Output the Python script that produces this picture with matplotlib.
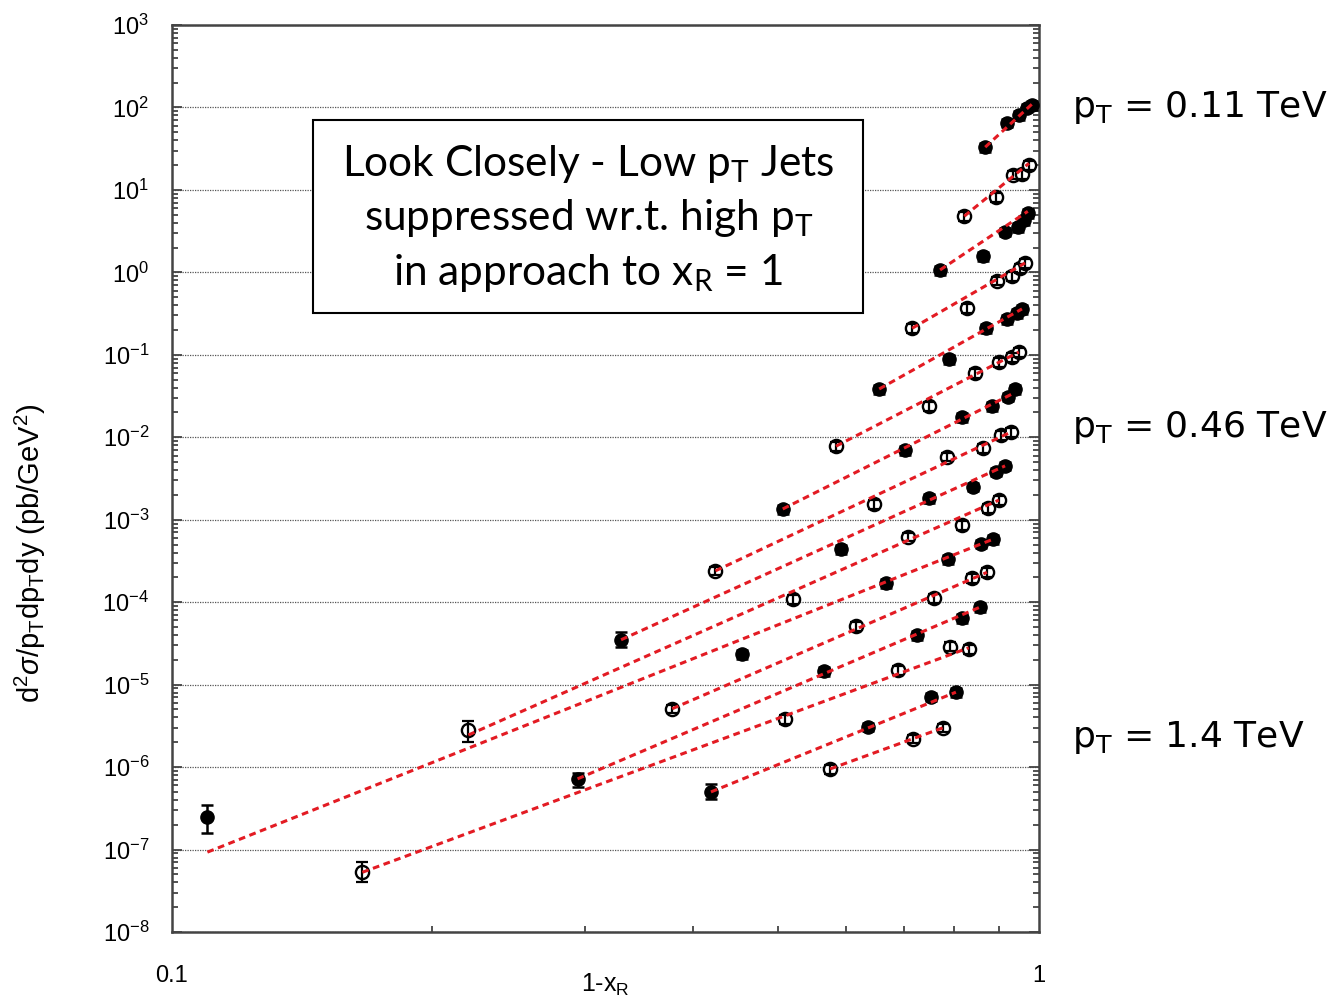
import matplotlib
matplotlib.use("Agg")
import matplotlib.pyplot as plt
from matplotlib.patches import Rectangle
from matplotlib.ticker import FixedLocator, LogLocator, NullFormatter, FixedFormatter

plt.rcParams["font.family"] = ["Liberation Sans", "DejaVu Sans"]
plt.rcParams["mathtext.fontset"] = "custom"
plt.rcParams["mathtext.rm"] = "Liberation Sans"
plt.rcParams["mathtext.it"] = "Liberation Sans:italic"

# 1 - x_R per pT bin, top (0.11 TeV) to bottom (1.4 TeV)
xr = [
    [0.868, 0.920, 0.949, 0.970, 0.983],
    [0.821, 0.893, 0.935, 0.957, 0.975],
    [0.770, 0.863, 0.915, 0.947, 0.962, 0.972],
    [0.715, 0.827, 0.896, 0.932, 0.952, 0.965],
    [0.655, 0.788, 0.870, 0.920, 0.944, 0.957],
    [0.584, 0.748, 0.845, 0.900, 0.932, 0.949],
    [0.507, 0.702, 0.816, 0.884, 0.922, 0.940],
    [0.424, 0.646, 0.784, 0.863, 0.905, 0.930],
    [0.330, 0.592, 0.748, 0.840, 0.893, 0.915],
    [0.220, 0.521, 0.707, 0.816, 0.875, 0.900],
    [0.110, 0.455, 0.667, 0.786, 0.858, 0.886],
    [0.378, 0.616, 0.758, 0.838, 0.872],
    [0.294, 0.566, 0.724, 0.816, 0.856],
    [0.166, 0.510, 0.689, 0.791, 0.831],
    [0.419, 0.636, 0.752, 0.803],
    [0.575, 0.717, 0.776],
]

# d2sigma/pT dpT dy (pb/GeV^2)
xsec = [
    [33, 65, 81, 99, 107],
    [4.8, 8.2, 15.2, 15.5, 20],
    [1.07, 1.58, 3.1, 3.55, 4.3, 5.25],
    [0.21, 0.37, 0.79, 0.90, 1.13, 1.30],
    [0.0385, 0.089, 0.21, 0.27, 0.32, 0.36],
    [0.0078, 0.024, 0.060, 0.082, 0.094, 0.108],
    [0.00135, 0.0070, 0.0176, 0.024, 0.031, 0.0385],
    [2.4e-4, 1.55e-3, 5.8e-3, 7.4e-3, 0.0106, 0.0116],
    [3.5e-5, 4.4e-4, 1.83e-3, 2.5e-3, 3.8e-3, 4.5e-3],
    [2.8e-6, 1.09e-4, 6.2e-4, 8.6e-4, 1.39e-3, 1.73e-3],
    [2.5e-7, 2.35e-5, 1.7e-4, 3.3e-4, 5.1e-4, 5.8e-4],
    [5.1e-6, 5.1e-5, 1.12e-4, 1.96e-4, 2.3e-4],
    [7.2e-7, 1.46e-5, 4.0e-5, 6.4e-5, 8.7e-5],
    [5.3e-8, 3.8e-6, 1.5e-5, 2.9e-5, 2.7e-5],
    [5.0e-7, 3.1e-6, 7.1e-6, 8.1e-6],
    [9.5e-7, 2.2e-6, 3.0e-6],
]

filled = [True, False] * 8

# red dashed power-law fits: value at first and last 1-x_R
fit_start = [33, 4.8, 1.07, 0.21, 0.0385, 0.0078, 0.00135, 2.4e-4, 3.5e-5,
             2.45e-6, 9.3e-8, 5.1e-6, 7.2e-7, 5.3e-8, 5.0e-7, 9.5e-7]
fit_end = [110, 21, 5.5, 1.3, 0.36, 0.108, 0.035, 0.0116, 4.5e-3,
           1.73e-3, 5.8e-4, 2.3e-4, 8.7e-5, 2.8e-5, 8.1e-6, 3.0e-6]

# error band of the lowest point in each bin (lo, hi); others small
first_err = [None, None, None, None, None, None, None, None,
             (2.88e-5, 4.35e-5), (2.01e-6, 3.62e-6), (1.58e-7, 3.47e-7),
             None, (5.73e-7, 8.47e-7), (4.04e-8, 7.05e-8), (4.1e-7, 6.22e-7), None]
rel_err = 0.12

pt_labels = ["p$_\\mathregular{T}$ = 0.11 TeV", "p$_\\mathregular{T}$ = 0.46 TeV",
             "p$_\\mathregular{T}$ = 1.4 TeV"]

W, H = 1330, 1006
fig = plt.figure(figsize=(W / 100, H / 100), dpi=100)
ax = fig.add_axes([171.5 / W, 1 - 932 / H, 867 / W, 907 / H])
ax.set_xscale("log")
ax.set_yscale("log")
ax.set_xlim(0.1, 1)
ax.set_ylim(1e-8, 1e3)

red = "#e31b23"
for xs, ys, f, y0, y1, fe in zip(xr, xsec, filled, fit_start, fit_end, first_err):
    lo = [y * rel_err for y in ys]
    hi = [y * rel_err for y in ys]
    if fe is not None:
        lo[0] = ys[0] - fe[0]
        hi[0] = fe[1] - ys[0]
    if f:
        ax.plot(xs, ys, "o", ms=9.5, mfc="black", mec="black", zorder=3)
        ax.errorbar(xs, ys, yerr=[lo, hi], fmt="none", ecolor="black",
                    elinewidth=1.8, capsize=4, capthick=1.8, zorder=2.9)
    else:
        ax.plot(xs, ys, "o", ms=9.5, mfc="white", mec="black", mew=1.7, zorder=3)
        ax.errorbar(xs, ys, yerr=[lo, hi], fmt="none", ecolor="black",
                    elinewidth=1.6, capsize=4, capthick=1.6, zorder=3.1)
    ax.plot([xs[0], xs[-1]], [y0, y1], color=red, lw=2.2,
            dashes=(2.2, 1.5), zorder=4)

# axes styling
for s in ax.spines.values():
    s.set_color("#444444")
    s.set_linewidth(1.8)

ax.yaxis.set_major_locator(FixedLocator([10.0 ** n for n in range(-8, 4)]))
ax.yaxis.set_major_formatter(FixedFormatter(["$10^{%d}$" % n for n in range(-8, 4)]))
ax.yaxis.set_minor_locator(LogLocator(base=10, subs=range(2, 10), numticks=20))
ax.yaxis.set_minor_formatter(NullFormatter())
ax.xaxis.set_major_locator(FixedLocator([0.1, 1]))
ax.xaxis.set_major_formatter(FixedFormatter(["0.1", "1"]))
ax.xaxis.set_minor_locator(FixedLocator([0.2, 0.3, 0.4, 0.5, 0.6, 0.7, 0.8, 0.9]))
ax.xaxis.set_minor_formatter(NullFormatter())

ax.tick_params(axis="y", which="both", direction="in", left=True, right=True,
               color="#444444", width=1.3)
ax.tick_params(axis="y", which="major", length=7, labelsize=17, pad=16)
ax.tick_params(axis="y", which="minor", length=4)
ax.tick_params(axis="x", which="both", direction="in", top=False,
               color="#444444", width=1.3)
ax.tick_params(axis="x", which="major", length=0, labelsize=17, pad=24)
ax.tick_params(axis="x", which="minor", length=4)

ax.yaxis.grid(True, which="major", linestyle=(0, (1, 1)), color="#555555",
              linewidth=0.9, zorder=0)
ax.set_axisbelow(True)

ax.text(0.5, -0.058, "1-x$_\\mathregular{R}$", transform=ax.transAxes,
        ha="center", va="center", fontsize=18)
ax.text(-0.163, 0.418,
        "d$^\\mathregular{2}\\sigma$/p$_\\mathregular{T}$dp$_\\mathregular{T}$dy (pb/GeV$^\\mathregular{2}$)",
        transform=ax.transAxes, rotation=90, ha="center", va="center", fontsize=21)

# annotation box
ax.add_patch(Rectangle((0.163, 0.6825), 0.6347, 0.2125, transform=ax.transAxes,
                       facecolor="white", edgecolor="black", lw=1.5, zorder=2))
ax.text(0.4806, 0.787,
        "Look Closely - Low p$_\\mathregular{T}$ Jets\n"
        "suppressed wr.t. high p$_\\mathregular{T}$\n"
        "in approach to x$_\\mathregular{R}$ = 1",
        transform=ax.transAxes, ha="center", va="center", fontsize=30.5,
        family=["Lato", "DejaVu Sans"], linespacing=1.38, zorder=5)

for lab, yy in zip(pt_labels, [107, 428, 737]):
    fig.text(1072 / W, 1 - yy / H, lab, ha="left", va="center", fontsize=26,
             family=["DejaVu Sans"])

fig.savefig("out.png", dpi=100)
